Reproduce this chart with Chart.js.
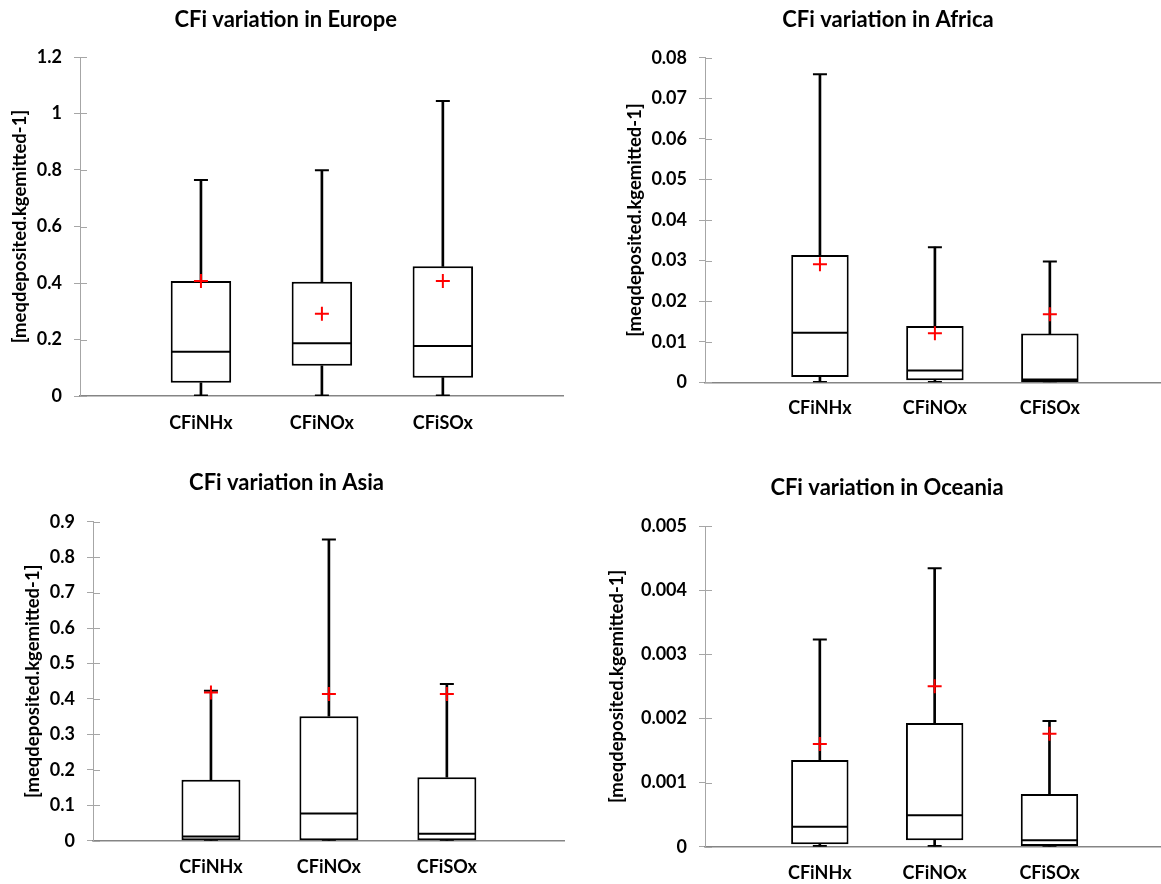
<!DOCTYPE html>
<html>
<head>
<meta charset="utf-8">
<script src="https://cdn.jsdelivr.net/npm/chart.js@4.4.0/dist/chart.umd.min.js"></script>
<style>
html, body { margin: 0; padding: 0; background: #ffffff; overflow: hidden; width: 1161px; height: 884px; }
canvas { position: absolute; display: block; }
</style>
</head>
<body>
<canvas id="cEurope"></canvas>
<canvas id="cAfrica"></canvas>
<canvas id="cAsia"></canvas>
<canvas id="cOceania"></canvas>
<script>
// ---------------- DATA ----------------
const categories = ['', 'CFiNHx', 'CFiNOx', 'CFiSOx', ''];
const yAxisTitle = '[meqdeposited.kgemitted-1]';

// Europe
const europeTitle = 'CFi variation in Europe';
const europeMin    = [0.002, 0.002, 0.002];
const europeQ1     = [0.047, 0.107, 0.065];
const europeMedian = [0.157, 0.187, 0.177];
const europeQ3     = [0.407, 0.404, 0.459];
const europeMax    = [0.765, 0.799, 1.044];
const europeMean   = [0.407, 0.291, 0.407];
const europeTicks  = ['0', '0.2', '0.4', '0.6', '0.8', '1', '1.2'];

// Africa
const africaTitle = 'CFi variation in Africa';
const africaMin    = [0.0001, 0.0001, 0.0000];
const africaQ1     = [0.0013, 0.0005, 0.0001];
const africaMedian = [0.0122, 0.0029, 0.0007];
const africaQ3     = [0.0314, 0.0139, 0.0120];
const africaMax    = [0.0759, 0.0333, 0.0298];
const africaMean   = [0.0291, 0.0121, 0.0168];
const africaTicks  = ['0', '0.01', '0.02', '0.03', '0.04', '0.05', '0.06', '0.07', '0.08'];

// Asia
const asiaTitle = 'CFi variation in Asia';
const asiaMin    = [0.000, 0.000, 0.000];
const asiaQ1     = [0.001, 0.001, 0.001];
const asiaMedian = [0.0122, 0.077, 0.0198];
const asiaQ3     = [0.172, 0.351, 0.179];
const asiaMax    = [0.423, 0.850, 0.442];
const asiaMean   = [0.418, 0.414, 0.414];
const asiaTicks  = ['0', '0.1', '0.2', '0.3', '0.4', '0.5', '0.6', '0.7', '0.8', '0.9'];

// Oceania
const oceaniaTitle = 'CFi variation in Oceania';
const oceaniaMin    = [0.00001, 0.00001, 0.00000];
const oceaniaQ1     = [0.00004, 0.00010, 0.00001];
const oceaniaMedian = [0.00031, 0.00049, 0.00010];
const oceaniaQ3     = [0.00135, 0.00193, 0.00082];
const oceaniaMax    = [0.00323, 0.00434, 0.00196];
const oceaniaMean   = [0.00160, 0.00250, 0.00176];
const oceaniaTicks  = ['0', '0.001', '0.002', '0.003', '0.004', '0.005'];

// ---------------- LAYOUT (positions only) ----------------
const layouts = {
  Europe:  { L: 0,   T: 0,   W: 580, H: 440, pl: 80,  pr: 569,  pt: 57,    pb: 396,   tcx: 285.7, tcy: 20,    ytx: 20.4, xlab: 27 },
  Africa:  { L: 580, T: 0,   W: 600, H: 440, pl: 705, pr: 1169, pt: 57.7,  pb: 382.3, tcx: 888,   tcy: 20,    ytx: 634.8, xlab: 26 },
  Asia:    { L: 0,   T: 440, W: 580, H: 444, pl: 93,  pr: 567,  pt: 521.7, pb: 840.7, tcx: 286.5, tcy: 483.3, ytx: 32.6, xlab: 26 },
  Oceania: { L: 580, T: 440, W: 600, H: 444, pl: 705, pr: 1171, pt: 526,   pb: 846.7, tcx: 887,   tcy: 488.3, ytx: 617, xlab: 26.5 }
};

const FONT = 'Lato, "Open Sans", "DejaVu Sans", sans-serif';
const TITLE_SIZE = 22, TICK_SIZE = 18, CAT_SIZE = 18, YTITLE_SIZE = 18.5;

function pad(a) { return [null, ...a, null]; }
function pairs(a, b) { return [null, ...a.map((v, i) => [v, b[i]]), null]; }

const innerTicks = {
  id: 'innerTicks',
  beforeDatasetsDraw(chart) {
    const y = chart.scales.y, ctx = chart.ctx;
    ctx.save();
    ctx.strokeStyle = '#a6a6a6';
    ctx.lineWidth = 1;
    y.ticks.forEach(t => {
      const py = Math.round(y.getPixelForValue(t.value)) + 0.5;
      ctx.beginPath();
      ctx.moveTo(y.right, py);
      ctx.lineTo(y.right + 7, py);
      ctx.stroke();
    });
    ctx.restore();
  }
};

function makeChart(id, p, title, d, tickLabels) {
  const cv = document.getElementById(id);
  cv.width = p.W; cv.height = p.H;
  cv.style.left = p.L + 'px'; cv.style.top = p.T + 'px';
  cv.style.width = p.W + 'px'; cv.style.height = p.H + 'px';

  const padR = p.L + p.W - p.pr;
  const padL = 2 * p.tcx - 2 * p.L - p.W + padR;
  const yWidth = p.pl - p.L - padL;
  const yTitlePad = p.ytx - (p.L + padL) - YTITLE_SIZE * 1.2 / 2;
  const titlePadTop = p.tcy - p.T - TITLE_SIZE * 1.2 / 2;
  const titlePadBottom = (p.pt - p.T) - titlePadTop - TITLE_SIZE * 1.2;
  const xHeight = p.T + p.H - p.pb;
  const xPad = p.xlab - CAT_SIZE * 1.2 / 2;
  const tickVals = tickLabels.map(Number);

  const spacing = ctx => {
    const x = ctx.chart.scales.x;
    return x.getPixelForValue(1) - x.getPixelForValue(0);
  };

  return new Chart(cv, {
    type: 'bar',
    data: {
      labels: categories,
      datasets: [
        { type: 'line', label: 'Mean', data: pad(d.mean), showLine: false,
          pointStyle: 'cross', pointRadius: 7, pointBorderColor: '#ff0000',
          pointBackgroundColor: '#ff0000', pointBorderWidth: 2, order: 0 },
        { type: 'line', label: 'Median', data: pad(d.median), showLine: false,
          pointStyle: 'line', pointRadius: ctx => spacing(ctx) * 0.25 - 1,
          pointBorderColor: '#000', pointBorderWidth: 2, order: 1 },
        { type: 'line', label: 'Max', data: pad(d.max), showLine: false,
          pointStyle: 'line', pointRadius: 7, pointBorderColor: '#000', pointBorderWidth: 2, order: 1 },
        { type: 'line', label: 'Min', data: pad(d.min), showLine: false,
          pointStyle: 'line', pointRadius: 7, pointBorderColor: '#000', pointBorderWidth: 2, order: 1 },
        { type: 'bar', label: 'Box', data: pairs(d.q1, d.q3), backgroundColor: '#ffffff',
          borderColor: '#000', borderWidth: 2, borderSkipped: false,
          barPercentage: 0.5, categoryPercentage: 1, grouped: false, order: 2 },
        { type: 'bar', label: 'Upper whisker', data: pairs(d.q3, d.max), backgroundColor: '#000',
          borderWidth: 0, barThickness: 2, grouped: false, order: 3 },
        { type: 'bar', label: 'Lower whisker', data: pairs(d.min, d.q1), backgroundColor: '#000',
          borderWidth: 0, barThickness: 2, grouped: false, order: 3 }
      ]
    },
    options: {
      responsive: false,
      animation: false,
      events: [],
      layout: { padding: { left: padL, right: padR, top: 0, bottom: 0 } },
      plugins: {
        legend: { display: false },
        tooltip: { enabled: false },
        title: {
          display: true, text: title, color: '#000',
          font: { family: FONT, size: TITLE_SIZE, weight: 'bold' },
          padding: { top: titlePadTop, bottom: titlePadBottom }
        }
      },
      scales: {
        x: {
          type: 'category', offset: false,
          grid: { display: false, drawTicks: false },
          border: { display: true, color: '#858585', width: 1.5 },
          ticks: { color: '#000', font: { family: FONT, size: CAT_SIZE, weight: 'bold' },
                   padding: xPad, autoSkip: false, maxRotation: 0 },
          afterFit(s) { s.height = xHeight; }
        },
        y: {
          min: tickVals[0], max: tickVals[tickVals.length - 1],
          grid: { display: true, drawOnChartArea: false, drawTicks: true, tickLength: 6, color: '#a6a6a6' },
          border: { display: true, color: '#a6a6a6', width: 1 },
          ticks: { color: '#000', font: { family: FONT, size: TICK_SIZE, weight: 'bold' }, padding: 12,
                   callback: (v, i) => tickLabels[i] },
          afterBuildTicks(s) { s.ticks = tickVals.map(v => ({ value: v })); },
          title: { display: true, text: yAxisTitle, color: '#000',
                   font: { family: FONT, size: YTITLE_SIZE, weight: 'bold' },
                   padding: { top: yTitlePad, bottom: 0 } },
          afterFit(s) { s.width = yWidth; }
        }
      }
    },
    plugins: [innerTicks]
  });
}

makeChart('cEurope', layouts.Europe, europeTitle,
  { min: europeMin, q1: europeQ1, median: europeMedian, q3: europeQ3, max: europeMax, mean: europeMean }, europeTicks);
makeChart('cAfrica', layouts.Africa, africaTitle,
  { min: africaMin, q1: africaQ1, median: africaMedian, q3: africaQ3, max: africaMax, mean: africaMean }, africaTicks);
makeChart('cAsia', layouts.Asia, asiaTitle,
  { min: asiaMin, q1: asiaQ1, median: asiaMedian, q3: asiaQ3, max: asiaMax, mean: asiaMean }, asiaTicks);
makeChart('cOceania', layouts.Oceania, oceaniaTitle,
  { min: oceaniaMin, q1: oceaniaQ1, median: oceaniaMedian, q3: oceaniaQ3, max: oceaniaMax, mean: oceaniaMean }, oceaniaTicks);
</script>
</body>
</html>
